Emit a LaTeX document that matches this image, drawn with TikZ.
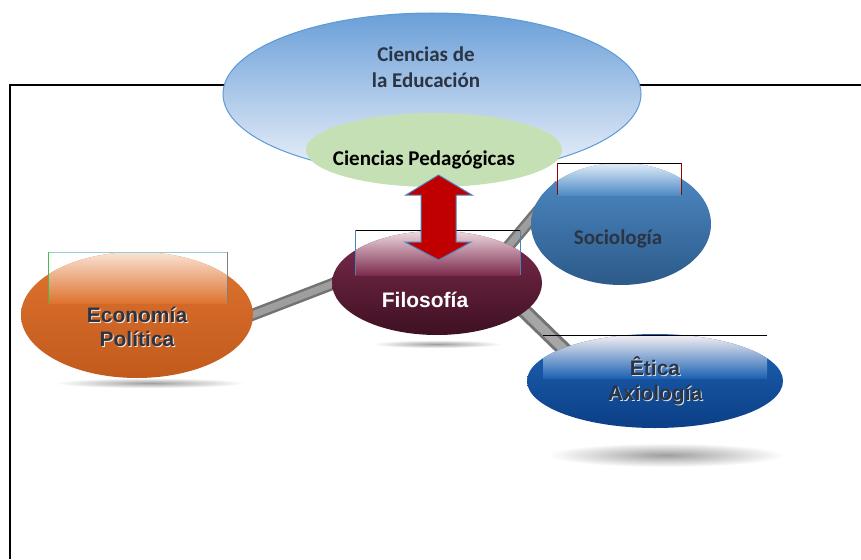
\documentclass[tikz,border=0pt]{standalone}
\usepackage{fontspec}
\setmainfont{Carlito}
\newfontfamily\arialf{Liberation Sans}
\usetikzlibrary{shapes.geometric,backgrounds}
\definecolor{edublue}{HTML}{5B9BD5}
\definecolor{edutop}{HTML}{6A9FD8}
\definecolor{edubot}{HTML}{EEF2FA}
\definecolor{pedgreen}{HTML}{C5E0B4}
\definecolor{arrred}{HTML}{C00000}
\definecolor{arredge}{HTML}{4F81BD}
\definecolor{ecobase}{HTML}{DE7430}
\definecolor{ecodark}{HTML}{C25A1C}
\definecolor{ecolight}{HTML}{FAE3D6}
\definecolor{filbase}{HTML}{7E2C4E}
\definecolor{fildark}{HTML}{3E1022}
\definecolor{fillight}{HTML}{F0DDE4}
\definecolor{socbase}{HTML}{4F8CC6}
\definecolor{socdark}{HTML}{2C5A8A}
\definecolor{soclight}{HTML}{E2EDF8}
\definecolor{etibase}{HTML}{1F63B4}
\definecolor{etidark}{HTML}{0B3F86}
\definecolor{etilight}{HTML}{F4F0F2}
\definecolor{txtdark}{HTML}{2B3442}
\tikzset{
  bubble/.style={ellipse, inner sep=0pt, outer sep=0pt},
  lbl/.style={anchor=base, font=\fontsize{21}{25}\selectfont\bfseries, inner sep=0pt},
  albl/.style={anchor=base, font=\fontsize{21}{25}\selectfont\arialf\bfseries, inner sep=0pt},
  tubeout/.style={line width=12pt, draw=black!55},
  tubein/.style={line width=7pt, draw=black!38},
  shadowell/.style={ellipse, inner sep=0pt, inner color=black!38, outer color=white},
  artline/.style={line width=0.6pt},
}
\begin{document}
\begin{tikzpicture}[x=1pt,y=-1pt]
\useasboundingbox (0,0) rectangle (861,559);
\fill[white] (0,0) rectangle (861,559);
% frame
\draw[line width=1.8pt] (861,85) -- (10,85) -- (10,559);
% shadows
\node[shadowell, minimum width=236pt, minimum height=24pt] (etishadow) at (666,455) {};
\node[shadowell, minimum width=190pt, minimum height=10pt] (ecoshadow) at (150,383) {};
\node[shadowell, minimum width=130pt, minimum height=8pt] (filshadow) at (437,344) {};
% bubbles (defined, drawn later over the tubes)
\coordinate (filc) at (437,283);
\coordinate (ecoc) at (137,315);
\coordinate (socc) at (621,224);
\coordinate (etic) at (655,381);
% tubes
\coordinate (t1a) at (200,335); \coordinate (t1b) at (400,258);
\coordinate (t2a) at (470,292); \coordinate (t2b) at (560,185);
\coordinate (t3a) at (480,268); \coordinate (t3b) at (580,365);
\draw[tubeout] (t1a) -- (t1b);
\draw[tubein] (t1a) -- (t1b);
\draw[tubeout] (t2a) -- (t2b);
\draw[tubein] (t2a) -- (t2b);
\draw[line width=15pt, draw=black!55] (t3a) -- (t3b);
\draw[line width=9pt, draw=black!35] (t3a) -- (t3b);
% Economia
\node[bubble, minimum width=232pt, minimum height=126pt, top color=ecobase, bottom color=ecodark] (eco) at (ecoc) {};
\begin{scope}
  \clip (137,315) ellipse [x radius=116, y radius=63];
  \shade[top color=ecolight, bottom color=ecobase] (48,252) rectangle (227,303);
\end{scope}
\draw[artline, draw=teal!40] (48,252) -- (227,252);
\draw[artline, draw=green!50!gray] (48,252) -- (48,303);
\draw[artline, draw=gray] (227,252) -- (227,303);
\node[albl, text=white!85!ecobase] at (138,323) {Economía};
\node[albl, text=white!85!ecobase] at (138,347) {Política};
\node[albl, text=txtdark] (ecot1) at (137,322) {Economía};
\node[albl, text=txtdark] (ecot2) at (137,346) {Política};
% Sociologia
\node[bubble, minimum width=180pt, minimum height=122pt, top color=socbase, bottom color=socdark] (soc) at (socc) {};
\begin{scope}
  \clip (621,224) ellipse [x radius=90, y radius=61];
  \shade[top color=soclight, bottom color=socbase] (557,163) rectangle (681,195);
\end{scope}
\draw[artline, draw=black] (557,163) -- (681,163);
\draw[artline, draw=red!60!black] (557,163) -- (557,195);
\draw[artline, draw=red!60!black] (681,163) -- (681,195);
\node[lbl, text=txtdark] (soct) at (618,244) {Sociología};
% Etica
\node[bubble, minimum width=256pt, minimum height=94pt, top color=etibase, bottom color=etidark] (eti) at (etic) {};
\begin{scope}
  \clip (655,381) ellipse [x radius=128, y radius=47];
  \shade[top color=etilight, bottom color=etibase] (543,335) rectangle (767,378);
\end{scope}
\draw[artline, draw=black] (543,335) -- (767,335);
\node[albl, text=white!80!etibase] at (656,376) {Êtica};
\node[albl, text=white!80!etibase] at (656,401) {Axiología};
\node[albl, text=txtdark] (etit1) at (655,375) {Êtica};
\node[albl, text=txtdark] (etit2) at (655,400) {Axiología};
% Filosofia
\node[bubble, minimum width=210pt, minimum height=104pt, top color=filbase, bottom color=fildark] (fil) at (filc) {};
\begin{scope}
  \clip (437,283) ellipse [x radius=105, y radius=52];
  \shade[top color=fillight, bottom color=filbase] (355,230) rectangle (520,275);
\end{scope}
\draw[artline, draw=black] (355,230) -- (520,230);
\draw[artline, draw=arredge] (355,230) -- (355,275);
\draw[artline, draw=arredge] (520,230) -- (520,275);
\node[albl, text=white] (filt) at (425,307) {Filosofía};
% Ciencias de la Educacion
\node[bubble, minimum width=418pt, minimum height=162pt, top color=edutop, bottom color=edubot, draw=edublue, line width=1pt] (edu) at (432,94) {};
\node[lbl, text=txtdark] (edut1) at (426,62) {Ciencias de};
\node[lbl, text=txtdark] (edut2) at (426,88) {la Educación};
% Ciencias Pedagogicas
\node[bubble, minimum width=256pt, minimum height=74pt, fill=pedgreen] (ped) at (434,150) {};
\node[lbl, text=black] (pedt) at (424,165) {Ciencias Pedagógicas};
% double arrow between ped and fil
\filldraw[fill=arrred, draw=arredge, line width=1pt]
  (438.5,175) -- (472,195) -- (456,195) -- (456,242) -- (471,242) -- (438.5,260)
  -- (405,242) -- (421,242) -- (421,195) -- (406,195) -- cycle;
\end{tikzpicture}
\end{document}
